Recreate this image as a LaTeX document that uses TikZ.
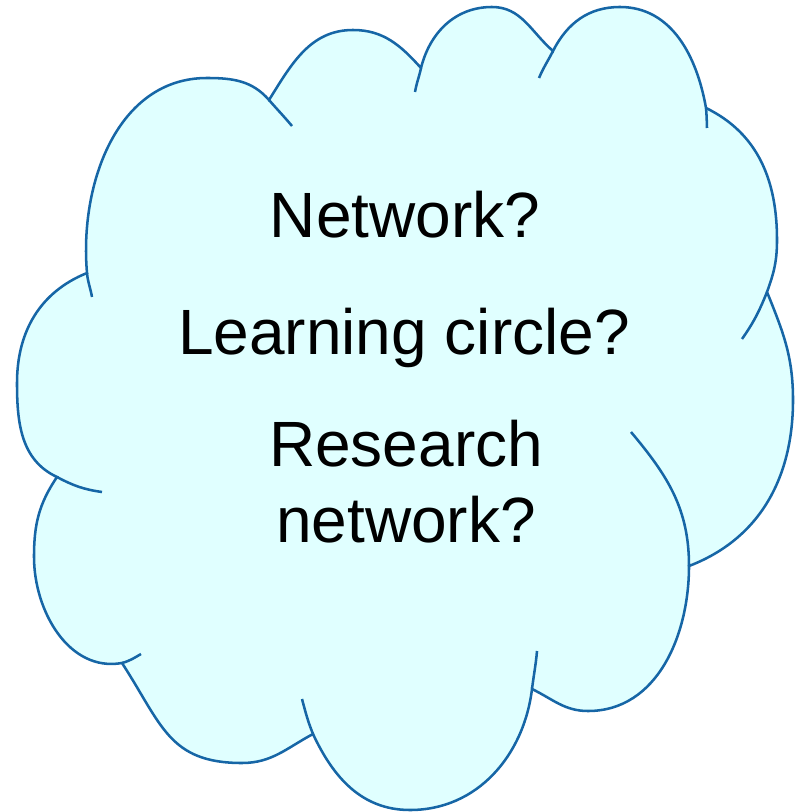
\documentclass[tikz,border=0pt]{standalone}
\usepackage{fontspec}
\setmainfont{Liberation Sans}
\definecolor{cloudblue}{RGB}{22,102,166}
\definecolor{cloudfill}{RGB}{224,255,255}
\tikzset{
	cloudline/.style={line width=1.9pt, color=cloudblue},
	cloudtext/.style={font=\fontsize{48}{57}\selectfont, anchor=base}
}

\begin{document}
\begin{tikzpicture}[x=0.75pt,y=0.75pt]
		%%%%% START %%%%%
		\useasboundingbox (0,0) rectangle (794,-812);
		
		\coordinate (A) at (87,-273);
		\coordinate (B) at (269,-100);
		\coordinate (C) at (421,-68);
		\coordinate (D) at (553,-51);
		\coordinate (E) at (706,-108);
		\coordinate (F) at (767,-292);
		\coordinate (G) at (689,-566);
		\coordinate (H) at (532,-689);
		\coordinate (I) at (313,-734);
		\coordinate (J) at (122,-663);
		\coordinate (K) at (57,-477);
		
		\draw[cloudline, fill=cloudfill] (A) to[out=95,in=180] (207,-78) to[out=0,in=131] (B)
			to[out=58,in=180] (353,-30) to[out=0,in=132] (C)
			to[out=76,in=180] (492,-7) to[out=0,in=139] (D)
			to[out=63,in=180] (620,-7) to[out=0,in=100] (E)
			to[out=-26,in=90] (777,-240) to[out=-90,in=70] (F)
			to[out=-68,in=90] (793,-400) to[out=-90,in=21] (G)
			to[out=-90,in=0] (588,-711) to[out=180,in=-26] (H)
			to[out=-97,in=0] (410,-810) to[out=180,in=-65] (I)
			to[out=-152,in=0] (242,-763) to[out=180,in=-57,looseness=1.2] (J)
			to[out=-170,in=-90] (34,-557) to[out=90,in=-124] (K)
			to[out=155,in=-90] (17,-383) to[out=90,in=-158] (A) -- cycle;
		
		% inner strokes
		\draw[cloudline] (A) to[out=-85,in=100] (92,-297);
		\draw[cloudline] (B) to[out=-49,in=130] (292,-126);
		\draw[cloudline] (C) to[out=-102,in=80] (415,-92);
		\draw[cloudline] (D) to[out=-117,in=67] (539,-78);
		\draw[cloudline] (E) to[out=-85,in=92] (707,-128);
		\draw[cloudline] (F) to[out=-112,in=55] (742,-339);
		\draw[cloudline] (G) to[out=90,in=-50] (631,-432);
		\draw[cloudline] (H) to[out=83,in=-95] (537,-651);
		\draw[cloudline] (I) to[out=112,in=-75] (302,-699);
		\draw[cloudline] (J) to[out=15,in=-150] (141,-654);
		\draw[cloudline] (K) to[out=-28,in=172] (102,-492);
		
		\node[cloudtext] (net) at (405,-238) {Network?};
		\node[cloudtext] (lc) at (404,-354) {Learning circle?};
		\node[cloudtext, align=center] (rn) at (406,-542) {Research\\network?};
		%%%%% END %%%%%
\end{tikzpicture}
\end{document}
